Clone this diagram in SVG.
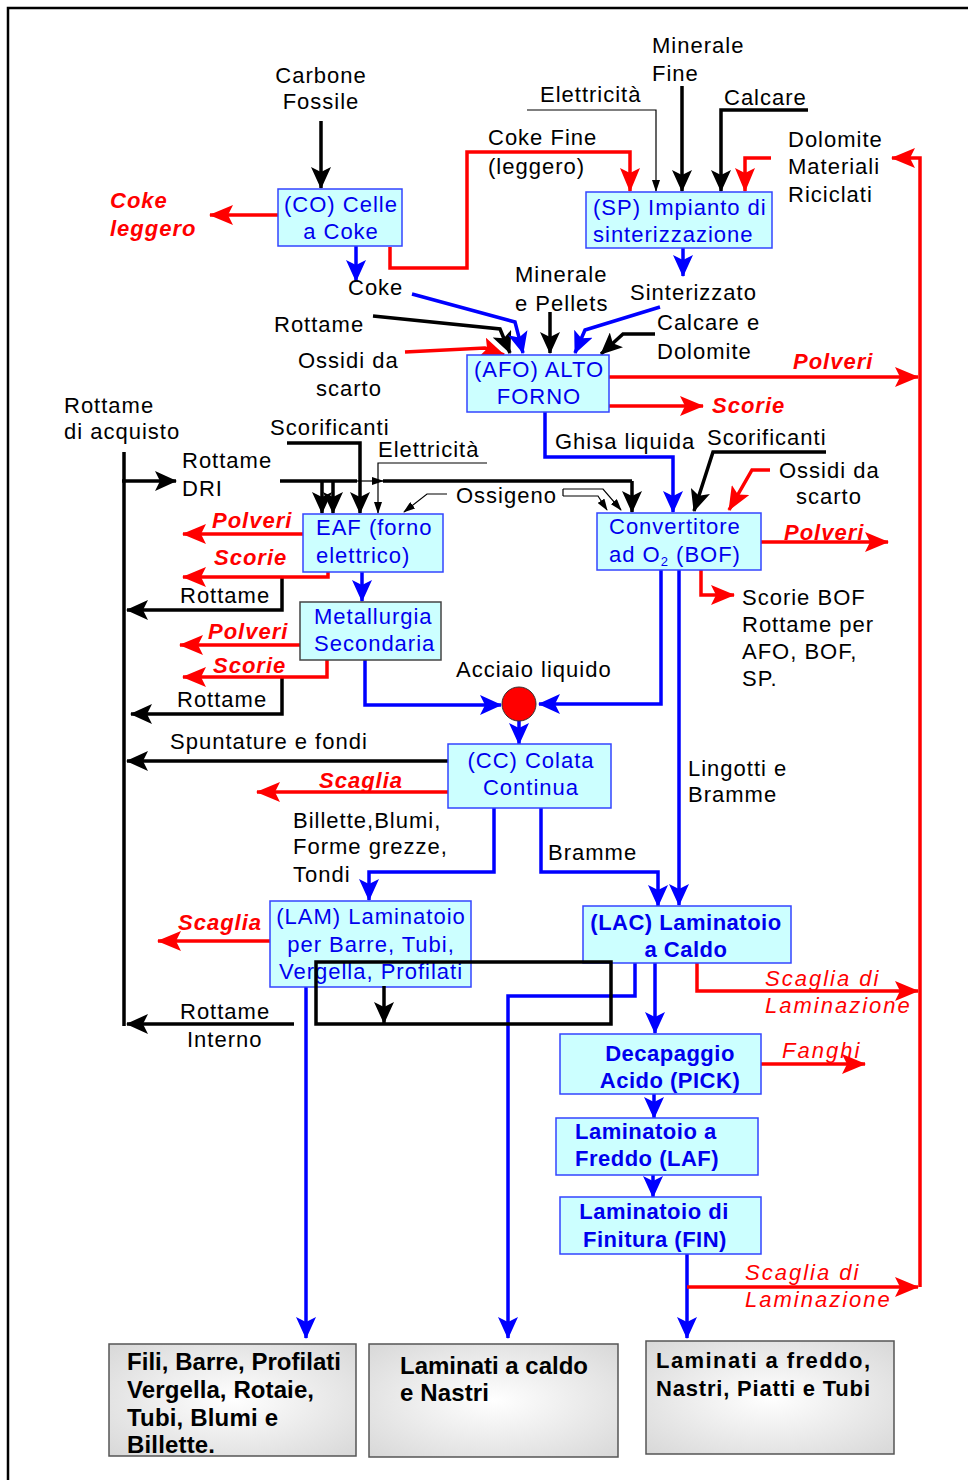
<svg xmlns="http://www.w3.org/2000/svg" width="968" height="1480" viewBox="0 0 968 1480">
<defs>
<style>
.box{fill:#ccffff;stroke:#3344ff;stroke-width:1.5}
.nt{font-family:"Liberation Sans",Arial,sans-serif;font-size:22px;fill:#0000ee;letter-spacing:1px}
.nb{font-family:"Liberation Sans",Arial,sans-serif;font-size:22px;fill:#0000ee;font-weight:bold;letter-spacing:0.5px}
.lb{font-family:"Liberation Sans",Arial,sans-serif;font-size:22px;fill:#000;letter-spacing:1px}
.rl{font-family:"Liberation Sans",Arial,sans-serif;font-size:22px;fill:#ff0000;font-weight:bold;font-style:italic;letter-spacing:1px}
.ri{font-family:"Liberation Sans",Arial,sans-serif;font-size:22px;fill:#ff0000;font-style:italic;letter-spacing:2px}
.ot{font-family:"Liberation Sans",Arial,sans-serif;font-size:24px;fill:#000;font-weight:bold}
.k{fill:none;stroke:#000;stroke-width:3.5;marker-end:url(#mk)}
.kn{fill:none;stroke:#000;stroke-width:3.5}
.kt{fill:none;stroke:#000;stroke-width:1.2;marker-end:url(#mt)}
.b{fill:none;stroke:#0000ff;stroke-width:3.5;marker-end:url(#mb)}
.r{fill:none;stroke:#ff0000;stroke-width:3.5;marker-end:url(#mr)}
.out{fill:url(#gr);stroke:#555;stroke-width:1.5}
</style>
<marker id="mk" viewBox="0 0 22 20" refX="21" refY="10" markerWidth="22" markerHeight="20" markerUnits="userSpaceOnUse" orient="auto"><path d="M0,0 L22,10 L0,20 L5,10 z" fill="#000"/></marker>
<marker id="mb" viewBox="0 0 22 20" refX="21" refY="10" markerWidth="22" markerHeight="20" markerUnits="userSpaceOnUse" orient="auto"><path d="M0,0 L22,10 L0,20 L5,10 z" fill="#0000ff"/></marker>
<marker id="mr" viewBox="0 0 24 20" refX="23" refY="10" markerWidth="24" markerHeight="20" markerUnits="userSpaceOnUse" orient="auto"><path d="M0,0 L24,10 L0,20 L5,10 z" fill="#ff0000"/></marker>
<marker id="mt" viewBox="0 0 12 8" refX="11" refY="4" markerWidth="12" markerHeight="8" markerUnits="userSpaceOnUse" orient="auto"><path d="M0,0 L12,4 L0,8 z" fill="#000"/></marker>
<radialGradient id="gr" cx="0.5" cy="0.5" r="0.7"><stop offset="0" stop-color="#ffffff"/><stop offset="1" stop-color="#d8d8d8"/></radialGradient>
</defs>
<rect width="968" height="1480" fill="#fff"/>
<path d="M8,1480 V8 H968" fill="none" stroke="#000" stroke-width="2.5"/>

<g id="connectors">
<path class="k" d="M321,121 V188"/>
<path class="k" d="M808,110 H721 V191"/>
<path class="k" d="M682,86 V191"/>
<path class="k" d="M550,312 V353"/>
<path class="k" d="M373,316 L500,329 L510,353"/>
<path class="k" d="M655,334 H623 L601,354"/>
<path class="kn" d="M280,481 H357"/>
<path class="kn" d="M383,481 H632"/>
<path class="kt" d="M357,481 H383"/>
<path class="k" d="M632,481 V512"/>
<path class="k" d="M322,481 V513"/>
<path class="k" d="M333,481 V513"/>
<path class="k" d="M287,443 H360 V513"/>
<path class="k" d="M122,481 H176"/>
<path class="kn" d="M124,452 V1026"/>
<path class="k" d="M826,452 H713 L694,511"/>
<path class="k" d="M282,578 V610 H127"/>
<path class="k" d="M282,678 V714 H131"/>
<path class="k" d="M448,761 H127"/>
<path class="k" d="M294,1024 H127"/>
<path class="kt" d="M527,110 H656 V191"/>
<path class="kt" d="M487,463 H378 V513"/>
<path class="kt" d="M447,494 H427 L404,512"/>
<path class="kt" d="M563,489 H603 L621,510"/>
<path class="kt" d="M563,496 H598 L607,510"/>
<path fill="none" stroke="#000" stroke-width="1.2" d="M563,489 V496"/>

<path class="b" d="M356,246 V281"/>
<path class="b" d="M683,248 V276"/>
<path class="b" d="M412,294 L515,322 L523,353"/>
<path class="b" d="M660,307 L585,330 L575,353"/>
<path class="b" d="M545,412 V457 H673 V512"/>
<path class="b" d="M362,572 V601"/>
<path class="b" d="M365,660 V705 H501"/>
<path class="b" d="M661,570 V704 H539"/>
<path class="b" d="M679,570 V905"/>
<path class="b" d="M519,720 V744"/>
<path class="b" d="M494,808 V872 H369 V900"/>
<path class="b" d="M541,808 V872 H658 V906"/>
<path class="b" d="M306,987 V1338"/>
<path class="b" d="M635,963 V996 H508 V1338"/>
<path class="b" d="M655,963 V1033"/>
<path class="b" d="M654,1094 V1118"/>
<path class="b" d="M653,1175 V1197"/>
<path class="b" d="M687,1254 V1338"/>

<path class="r" d="M278,215 H210"/>
<path class="r" d="M390,247 V268 H467 V152 H630 V191"/>
<path class="r" d="M771,158 H745 V191"/>
<path class="r" d="M920,1287 V158 H892"/>
<path class="r" d="M405,352 L485,348 L504,355"/>
<path class="r" d="M609,377 H918"/>
<path class="r" d="M609,406 H703"/>
<path class="r" d="M770,470 H752 L729,510"/>
<path class="r" d="M761,542 H888"/>
<path class="r" d="M701,570 V595 H734"/>
<path class="r" d="M305,534 H183"/>
<path class="r" d="M328,572 V577 H183"/>
<path class="r" d="M302,645 H180"/>
<path class="r" d="M327,660 V677 H183"/>
<path class="r" d="M448,792 H257"/>
<path class="r" d="M270,941 H158"/>
<path class="r" d="M697,963 V991 H918"/>
<path class="r" d="M761,1064 H865"/>
<path class="r" d="M687,1287 H918"/>
</g>

<g id="labels">
<text class="lb" x="321" y="83" text-anchor="middle">Carbone</text>
<text class="lb" x="321" y="109" text-anchor="middle">Fossile</text>
<text class="rl" x="110" y="208">Coke</text>
<text class="rl" x="110" y="236">leggero</text>
<text class="lb" x="488" y="145">Coke Fine</text>
<text class="lb" x="488" y="174">(leggero)</text>
<text class="lb" x="540" y="102">Elettricità</text>
<text class="lb" x="652" y="53">Minerale</text>
<text class="lb" x="652" y="81">Fine</text>
<text class="lb" x="724" y="105">Calcare</text>
<text class="lb" x="788" y="147">Dolomite</text>
<text class="lb" x="788" y="174">Materiali</text>
<text class="lb" x="788" y="202">Riciclati</text>
<text class="lb" x="348" y="295">Coke</text>
<text class="lb" x="515" y="282">Minerale</text>
<text class="lb" x="515" y="311">e Pellets</text>
<text class="lb" x="630" y="300">Sinterizzato</text>
<text class="lb" x="274" y="332">Rottame</text>
<text class="lb" x="657" y="330">Calcare e</text>
<text class="lb" x="657" y="359">Dolomite</text>
<text class="lb" x="298" y="368">Ossidi da</text>
<text class="lb" x="316" y="396">scarto</text>
<text class="rl" x="793" y="369">Polveri</text>
<text class="rl" x="712" y="413">Scorie</text>
<text class="lb" x="64" y="413">Rottame</text>
<text class="lb" x="64" y="439">di acquisto</text>
<text class="lb" x="270" y="435">Scorificanti</text>
<text class="lb" x="378" y="457">Elettricità</text>
<text class="lb" x="555" y="449">Ghisa liquida</text>
<text class="lb" x="707" y="445">Scorificanti</text>
<text class="lb" x="182" y="468">Rottame</text>
<text class="lb" x="182" y="496">DRI</text>
<text class="lb" x="779" y="478">Ossidi da</text>
<text class="lb" x="796" y="504">scarto</text>
<text class="lb" x="456" y="503">Ossigeno</text>
<text class="rl" x="212" y="528">Polveri</text>
<text class="rl" x="784" y="540">Polveri</text>
<text class="rl" x="214" y="565">Scorie</text>
<text class="lb" x="742" y="605">Scorie BOF</text>
<text class="lb" x="742" y="632">Rottame per</text>
<text class="lb" x="742" y="659">AFO, BOF,</text>
<text class="lb" x="742" y="686">SP.</text>
<text class="lb" x="180" y="603">Rottame</text>
<text class="rl" x="208" y="639">Polveri</text>
<text class="rl" x="213" y="673">Scorie</text>
<text class="lb" x="456" y="677">Acciaio liquido</text>
<text class="lb" x="177" y="707">Rottame</text>
<text class="lb" x="170" y="749">Spuntature e fondi</text>
<text class="rl" x="319" y="788">Scaglia</text>
<text class="lb" x="688" y="776">Lingotti e</text>
<text class="lb" x="688" y="802">Bramme</text>
<text class="lb" x="293" y="828">Billette,Blumi,</text>
<text class="lb" x="293" y="854">Forme grezze,</text>
<text class="lb" x="293" y="882">Tondi</text>
<text class="lb" x="548" y="860">Bramme</text>
<text class="rl" x="178" y="930">Scaglia</text>
<text class="ri" x="765" y="986">Scaglia di</text>
<text class="ri" x="765" y="1013">Laminazione</text>
<text class="lb" x="180" y="1019">Rottame</text>
<text class="lb" x="187" y="1047">Interno</text>
<text class="ri" x="782" y="1058">Fanghi</text>
<text class="ri" x="745" y="1280">Scaglia di</text>
<text class="ri" x="745" y="1307">Laminazione</text>
</g>

<g id="CO"><rect class="box" x="278" y="189" width="124" height="57"/>
<text class="nt" x="341" y="212" text-anchor="middle">(CO) Celle</text>
<text class="nt" x="341" y="239" text-anchor="middle">a Coke</text></g>

<g id="SP"><rect class="box" x="586" y="192" width="186" height="56"/>
<text class="nt" x="593" y="215">(SP) Impianto di</text>
<text class="nt" x="593" y="242">sinterizzazione</text></g>

<g id="AFO"><rect class="box" x="467" y="355" width="142" height="57"/>
<text class="nt" x="539" y="377" text-anchor="middle">(AFO) ALTO</text>
<text class="nt" x="539" y="404" text-anchor="middle">FORNO</text></g>

<g id="EAF"><rect class="box" x="303" y="514" width="140" height="58"/>
<text class="nt" x="316" y="535">EAF (forno</text>
<text class="nt" x="316" y="563">elettrico)</text></g>

<g id="MS"><rect class="box" x="300" y="602" width="141" height="58" style="stroke:#444"/>
<text class="nt" x="314" y="624">Metallurgia</text>
<text class="nt" x="314" y="651">Secondaria</text></g>

<g id="BOF"><rect class="box" x="597" y="513" width="164" height="57"/>
<text class="nt" x="609" y="534">Convertitore</text>
<text class="nt" x="609" y="562">ad O<tspan font-size="13" dy="4">2</tspan><tspan dy="-4"> (BOF)</tspan></text></g>

<g id="steel"><circle cx="519" cy="704" r="17" fill="#ff0000" stroke="#333" stroke-width="1"/></g>

<g id="CC"><rect class="box" x="448" y="744" width="163" height="64"/>
<text class="nt" x="531" y="768" text-anchor="middle">(CC) Colata</text>
<text class="nt" x="531" y="795" text-anchor="middle">Continua</text></g>

<g id="LAM"><rect class="box" x="270" y="901" width="201" height="86"/>
<text class="nt" x="371" y="924" text-anchor="middle">(LAM) Laminatoio</text>
<text class="nt" x="371" y="952" text-anchor="middle">per Barre, Tubi,</text>
<text class="nt" x="371" y="979" text-anchor="middle">Vergella, Profilati</text></g>

<g id="LAC"><rect class="box" x="583" y="906" width="208" height="57"/>
<text class="nb" x="686" y="930" text-anchor="middle">(LAC) Laminatoio</text>
<text class="nb" x="686" y="957" text-anchor="middle">a Caldo</text></g>

<g id="PICK"><rect class="box" x="560" y="1034" width="201" height="60"/>
<text class="nb" x="670" y="1061" text-anchor="middle">Decapaggio</text>
<text class="nb" x="670" y="1088" text-anchor="middle">Acido (PICK)</text></g>

<g id="LAF"><rect class="box" x="556" y="1118" width="202" height="57"/>
<text class="nb" x="575" y="1139">Laminatoio a</text>
<text class="nb" x="575" y="1166">Freddo (LAF)</text></g>

<g id="FIN"><rect class="box" x="560" y="1197" width="201" height="57"/>
<text class="nb" x="654" y="1219" text-anchor="middle">Laminatoio di</text>
<text class="nb" x="655" y="1247" text-anchor="middle">Finitura (FIN)</text></g>

<g id="OUT1"><rect class="out" x="109" y="1344" width="247" height="112"/>
<text class="ot" x="127" y="1370" textLength="214">Fili, Barre, Profilati</text>
<text class="ot" x="127" y="1398" textLength="187">Vergella, Rotaie,</text>
<text class="ot" x="127" y="1426" textLength="151">Tubi, Blumi e</text>
<text class="ot" x="127" y="1453" textLength="88">Billette.</text></g>

<g id="OUT2"><rect class="out" x="369" y="1344" width="249" height="113"/>
<text class="ot" x="400" y="1374" textLength="188">Laminati a caldo</text>
<text class="ot" x="400" y="1401" textLength="89">e Nastri</text></g>

<g id="OUT3"><rect class="out" x="646" y="1341" width="248" height="113"/>
<text class="ot" x="656" y="1368" textLength="214" style="font-size:22px">Laminati a freddo,</text>
<text class="ot" x="656" y="1396" textLength="214" style="font-size:22px">Nastri, Piatti e Tubi</text></g>

<g id="connectors-over">
<path class="kn" d="M316,962 H611 V1024 H316 Z"/>
<path class="k" d="M384,986 V1023"/>
</g>
</svg>
